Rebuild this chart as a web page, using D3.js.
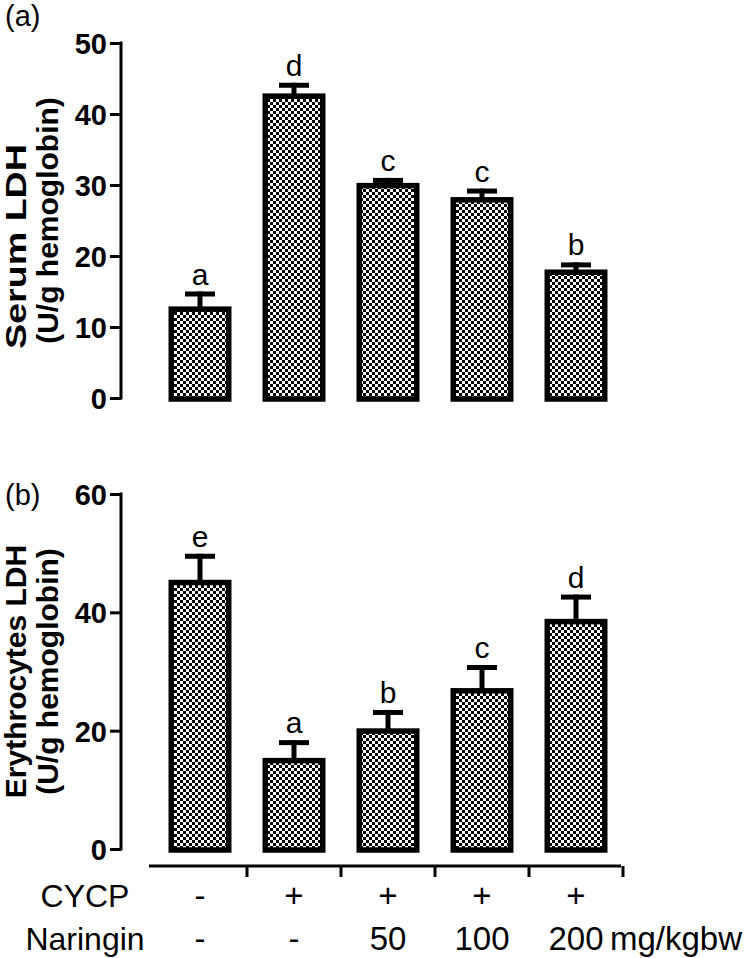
<!DOCTYPE html>
<html>
<head>
<meta charset="utf-8">
<script src="https://cdn.jsdelivr.net/npm/d3@7"></script>
<style>
  body { margin: 0; background: #fff; }
  text { font-family: "Liberation Sans", Arial, sans-serif; fill: #000; }
</style>
</head>
<body>
<svg id="chart"></svg>
<script>
// groups, shared by both panels
const groups = ['control', 'cycp', 'nar50', 'nar100', 'nar200']
const cycpLabels = ['-', '+', '+', '+', '+']
const naringinLabels = ['-', '-', '50', '100', '200']

// panel (a) serum LDH
const serumMean = [12.9, 42.9, 30.3, 28.3, 18.1]
const serumErr = [15.0, 44.4, 31.0, 29.5, 19.1]
const serumLetters = ['a', 'd', 'c', 'c', 'b']
const serumTicks = [0, 10, 20, 30, 40, 50]

// panel (b) erythrocytes LDH
const eryMean = [45.5, 15.4, 20.4, 27.2, 38.9]
const eryErr = [49.9, 18.4, 23.5, 31.1, 43.0]
const eryLetters = ['e', 'a', 'b', 'c', 'd']
const eryTicks = [0, 20, 40, 60]

const svgWidth = 750
const svgHeight = 958
const axisX = 121
const barStroke = 5.5

const svg = d3.select('#chart')
    .attr('width', svgWidth)
    .attr('height', svgHeight)

// checkerboard fill
const pat = svg.append('defs').append('pattern')
    .attr('id', 'checker')
    .attr('patternUnits', 'userSpaceOnUse')
    .attr('width', 6)
    .attr('height', 6)
pat.append('rect').attr('width', 6).attr('height', 6).attr('fill', '#fff')
pat.append('rect').attr('width', 3).attr('height', 3).attr('fill', '#000')
pat.append('rect').attr('x', 3).attr('y', 3).attr('width', 3).attr('height', 3).attr('fill', '#000')

const xScale = d3.scaleBand()
    .domain(groups)
    .range([153, 623])
    .paddingInner(0.33)
    .paddingOuter(0.165)

const drawPanel = (opts) => {
    const yScale = d3.scaleLinear()
        .domain([0, d3.max(opts.ticks)])
        .range([opts.bottom, opts.top])

    const g = svg.append('g')

    // y axis
    const yAxis = d3.axisLeft(yScale)
        .tickValues(opts.ticks)
        .tickSize(11)
        .tickPadding(3)
    const ax = g.append('g')
        .attr('transform', 'translate(' + axisX + ',0)')
        .call(yAxis)
    ax.select('.domain').attr('stroke-width', 3).attr('d', 'M0,' + (opts.top - 1.5) + 'V' + (opts.bottom + 1.5))
    ax.selectAll('.tick line').attr('stroke-width', 3)
    ax.selectAll('.tick text')
        .style('font-size', '29px')
        .style('font-weight', 'bold')
        .attr('dy', '0.36em')

    // axis title (two lines)
    const mid = (opts.top + opts.bottom) / 2
    const t1 = g.append('text')
        .attr('transform', 'translate(26,' + (mid + opts.shift1) + ') rotate(-90)')
        .attr('text-anchor', 'middle')
        .style('font-size', '30px')
        .style('font-weight', 'bold')
        .text(opts.title1)
    if (opts.len1) {
        t1.attr('textLength', opts.len1).attr('lengthAdjust', 'spacingAndGlyphs')
    }
    g.append('text')
        .attr('transform', 'translate(58,' + mid + ') rotate(-90)')
        .attr('text-anchor', 'middle')
        .style('font-size', '30px')
        .style('font-weight', 'bold')
        .text('(U/g hemoglobin)')

    // panel tag
    g.append('text')
        .attr('x', 5)
        .attr('y', opts.tagY)
        .style('font-size', '29px')
        .text(opts.tag)

    const bw = xScale.bandwidth()

    // error bars (upper only)
    g.selectAll('.err')
        .data(groups)
        .enter()
        .append('line')
        .attr('x1', d => xScale(d) + bw / 2)
        .attr('x2', d => xScale(d) + bw / 2)
        .attr('y1', (d, i) => yScale(opts.mean[i]) + 2)
        .attr('y2', (d, i) => yScale(opts.err[i]))
        .attr('stroke', '#000')
        .attr('stroke-width', 5)
    g.selectAll('.cap')
        .data(groups)
        .enter()
        .append('line')
        .attr('x1', d => xScale(d) + bw / 2 - 15)
        .attr('x2', d => xScale(d) + bw / 2 + 15)
        .attr('y1', (d, i) => yScale(opts.err[i]) + 2.5)
        .attr('y2', (d, i) => yScale(opts.err[i]) + 2.5)
        .attr('stroke', '#000')
        .attr('stroke-width', 5)

    // bars
    g.selectAll('.bar')
        .data(groups)
        .enter()
        .append('rect')
        .attr('x', d => xScale(d) + barStroke / 2)
        .attr('y', (d, i) => yScale(opts.mean[i]) + barStroke / 2)
        .attr('width', bw - barStroke)
        .attr('height', (d, i) => yScale(0) - yScale(opts.mean[i]) - barStroke / 2 + 1)
        .attr('fill', 'url(#checker)')
        .attr('stroke', '#000')
        .attr('stroke-width', barStroke)

    // significance letters
    g.selectAll('.letter')
        .data(groups)
        .enter()
        .append('text')
        .attr('x', d => xScale(d) + bw / 2)
        .attr('y', (d, i) => yScale(opts.err[i]) - 7)
        .attr('text-anchor', 'middle')
        .style('font-size', '30px')
        .text((d, i) => opts.letters[i])
}

drawPanel({
    mean: serumMean, err: serumErr, letters: serumLetters, ticks: serumTicks,
    top: 43, bottom: 398, title1: 'Serum LDH', shift1: 26, len1: 205,
    tag: '(a)', tagY: 26
})

drawPanel({
    mean: eryMean, err: eryErr, letters: eryLetters, ticks: eryTicks,
    top: 494, bottom: 849, title1: 'Erythrocytes LDH', shift1: 0, len1: 0,
    tag: '(b)', tagY: 505
})

// bottom category axis, ticks between groups
const xAxisG = svg.append('g').attr('transform', 'translate(0,866)')
xAxisG.append('line')
    .attr('x1', 149).attr('x2', 621)
    .attr('stroke', '#000').attr('stroke-width', 3)
xAxisG.selectAll('.xtick')
    .data(groups)
    .enter()
    .append('line')
    .attr('x1', d => xScale(d) + xScale.step() - (xScale.step() - xScale.bandwidth()) / 2)
    .attr('x2', d => xScale(d) + xScale.step() - (xScale.step() - xScale.bandwidth()) / 2)
    .attr('y1', 0).attr('y2', 11)
    .attr('stroke', '#000').attr('stroke-width', 3)

// treatment rows
const rows = [
    { name: 'CYCP', labels: cycpLabels, y: 907 },
    { name: 'Naringin', labels: naringinLabels, y: 950 }
]
rows.forEach(r => {
    svg.append('text')
        .attr('x', 85).attr('y', r.y)
        .attr('text-anchor', 'middle')
        .style('font-size', '32px')
        .text(r.name)
    svg.selectAll(null)
        .data(groups)
        .enter()
        .append('text')
        .attr('x', d => xScale(d) + xScale.bandwidth() / 2)
        .attr('y', r.y)
        .attr('text-anchor', 'middle')
        .style('font-size', '33px')
        .text((d, i) => r.labels[i])
})
svg.append('text')
    .attr('x', 610).attr('y', 950)
    .style('font-size', '33px')
    .text('mg/kgbw')
</script>
</body>
</html>
